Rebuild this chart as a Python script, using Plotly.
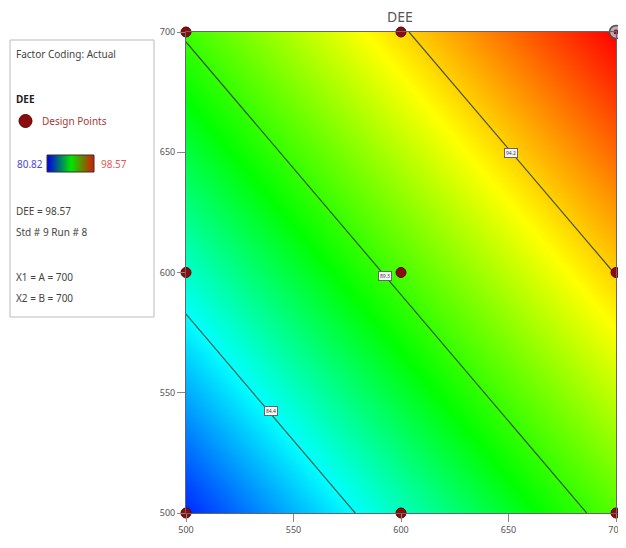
import plotly.graph_objects as go

# ---- data ----
A_levels = [500, 600, 700]          # X1 = A
B_levels = [500, 600, 700]          # X2 = B
DEE_grid = [                        # rows: B, cols: A
    [80.82, 85.37, 89.92],
    [85.15, 89.70, 94.25],
    [89.48, 94.03, 98.57],
]
contour_levels = [84.4, 89.3, 94.2]
label_A = [539.5, 592.6, 651.0]
label_B = [542.4, 598.5, 649.7]
design_A = [500, 600, 700, 500, 600, 700, 500, 600]
design_B = [500, 500, 500, 600, 600, 600, 700, 700]
sel_A = [700]
sel_B = [700]
tick_vals = [500, 550, 600, 650, 700]
dee_min, dee_max = 80.82, 98.57

# page body has an 8px margin: size the figure so that it ends at the window edge
OFF = 8
W, H = 626 - OFF, 548 - OFF
REF_L, REF_R, REF_T, REF_B = 186, 616, 32, 513     # plot box in window pixels
ML = 0
MR = W - (REF_R - OFF)
MT = REF_T - OFF
MB = H - (REF_B - OFF)
PW = W - ML - MR
PH = H - MT - MB


def px(x):      # window pixel -> paper x
    return (x - OFF - ML) / PW


def py(y):      # window pixel -> paper y
    return (REF_B - y) / PH


scale = [[0.0, "rgb(0,40,255)"], [0.2, "rgb(0,255,255)"], [0.42, "rgb(0,255,0)"],
         [0.7, "rgb(255,255,0)"], [1.0, "rgb(255,0,0)"]]

fig = go.Figure()
fig.add_trace(go.Heatmap(x=A_levels, y=B_levels, z=DEE_grid, zsmooth="best",
                         colorscale=scale, zmin=dee_min, zmax=dee_max,
                         showscale=False, hoverinfo="skip"))
step = round(contour_levels[1] - contour_levels[0], 4)
fig.add_trace(go.Contour(x=A_levels, y=B_levels, z=DEE_grid,
                         contours=dict(coloring="none", start=contour_levels[0],
                                       end=contour_levels[-1], size=step),
                         line=dict(color="rgba(40,60,40,0.85)", width=1.2),
                         showscale=False, hoverinfo="skip"))
fig.add_trace(go.Scatter(x=design_A, y=design_B, mode="markers", cliponaxis=False,
                         marker=dict(size=10, color="#8b0c0c", line=dict(color="#5a0000", width=1)),
                         hoverinfo="skip"))
fig.add_trace(go.Scatter(x=sel_A, y=sel_B, mode="markers", cliponaxis=False,
                         marker=dict(size=13, color="#c8a8b0", line=dict(color="#505050", width=1.5)),
                         hoverinfo="skip"))
fig.add_trace(go.Scatter(x=sel_A, y=sel_B, mode="markers", cliponaxis=False,
                         marker=dict(size=5, color="#8b1a3a"), hoverinfo="skip"))

# legend colour bar
fig.add_trace(go.Heatmap(x=[0, 1], y=[0], z=[[dee_min, dee_max]], zsmooth="best",
                         colorscale=[[0, "rgb(0,0,230)"], [0.5, "rgb(0,230,0)"], [1, "rgb(220,20,0)"]],
                         zmin=dee_min, zmax=dee_max, showscale=False, hoverinfo="skip",
                         xaxis="x2", yaxis="y2"))

for a, b, lv in zip(label_A, label_B, contour_levels):
    fig.add_annotation(x=a, y=b, text=f"{lv:.1f}", showarrow=False,
                       font=dict(size=5, color="#333"), bgcolor="#f4f4f4",
                       bordercolor="#666", borderwidth=1, borderpad=1)

font = "Noto Sans"
txt = "#444"
legend_items = [
    ("Factor Coding: Actual", 14, 54, txt),
    ("<b>DEE</b>", 14, 99, "#222"),
    ("Design Points", 40, 121, "#a83a3a"),
    ("80.82", 15, 164, "#4a4ad8"),
    ("98.57", 99, 164, "#e05a5a"),
    ("DEE = 98.57", 14, 211, txt),
    ("Std # 9 Run # 8", 14, 232, txt),
    ("X1 = A = 700", 14, 277, txt),
    ("X2 = B = 700", 14, 298, txt),
]
for t, x0, y0, c in legend_items:
    fig.add_annotation(x=px(x0), y=py(y0), xref="paper", yref="paper", text=t,
                       showarrow=False, xanchor="left", yanchor="middle",
                       font=dict(family=font, size=10, color=c))

fig.add_annotation(x=px(400), y=py(16), xref="paper", yref="paper", text="DEE",
                   showarrow=False, xanchor="center", yanchor="middle",
                   font=dict(family=font, size=14, color="#555"))

shapes = [
    dict(type="rect", xref="paper", yref="paper", x0=px(10), x1=px(154), y0=py(317), y1=py(40),
         line=dict(color="#bbbbbb", width=1)),
    dict(type="circle", xref="paper", yref="paper", x0=px(19), x1=px(32), y0=py(127.5), y1=py(114.5),
         fillcolor="#8b0c0c", line=dict(color="#5a0000", width=1)),
    dict(type="rect", xref="paper", yref="paper", x0=px(47), x1=px(94), y0=py(172), y1=py(155),
         line=dict(color="#333", width=1)),
]

ax_common = dict(range=[500, 700], tickvals=tick_vals, ticks="outside", ticklen=8,
                 tickcolor="#888", tickfont=dict(family=font, size=9, color="#555"),
                 showgrid=False, zeroline=False, showline=True, linecolor="#666",
                 linewidth=1, mirror=True, automargin=False)
fig.update_layout(
    width=W, height=H, margin=dict(l=ML, r=MR, t=MT, b=MB, autoexpand=False),
    paper_bgcolor="white", plot_bgcolor="white", showlegend=False,
    xaxis=dict(domain=[px(REF_L), 1], **ax_common),
    yaxis=dict(**ax_common),
    xaxis2=dict(domain=[px(47), px(94)], anchor="y2", range=[0, 1], visible=False),
    yaxis2=dict(domain=[py(172), py(155)], anchor="x2", range=[-0.5, 0.5], visible=False),
    shapes=shapes,
)
fig.write_html("out.html")
